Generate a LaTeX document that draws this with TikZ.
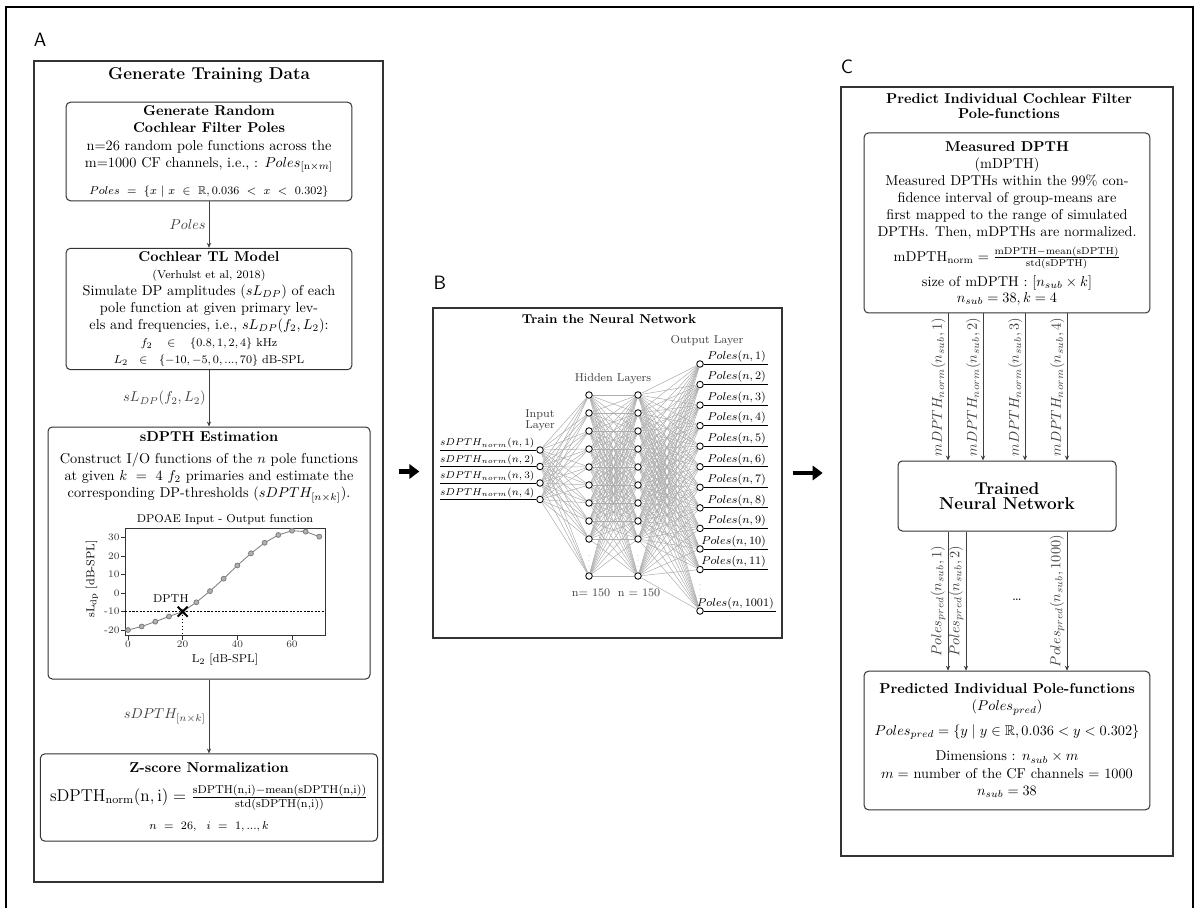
\documentclass[tikz,border=0pt]{standalone}
\usepackage{amsmath,amssymb}
\usetikzlibrary{arrows.meta, positioning, fit}

\begin{document}
\begin{tikzpicture}[
  x=0.7pt, y=-0.7pt,
  box/.style={draw=black!80, line width=0.7pt, rounded corners=3pt, align=flush center, inner sep=2pt},
  panel/.style={draw=black!80, line width=0.9pt, inner sep=0pt},
  paneltag/.style={font=\sffamily\fontsize{13.5}{16}\selectfont},
  lbl/.style={inner sep=2pt},
  rlbl/.style={rotate=90, anchor=south, inner sep=1.5pt},
  arr/.style={-{Stealth[length=3.5pt, width=3pt]}, black!75, line width=0.6pt},
  bigarr/.style={-{Triangle[length=7pt, width=10pt]}, line width=3pt},
  wire/.style={black!32, line width=0.35pt},
  neuron/.style={circle, draw, fill=white, line width=0.6pt, minimum size=4.6pt, inner sep=0pt},
  io/.style={line width=0.6pt},
  nnlbl/.style={font=\fontsize{7.8}{9}\selectfont, inner sep=1pt},
  inlbl/.style={font=\fontsize{7}{8}\selectfont, inner sep=1pt},
  layerlbl/.style={font=\fontsize{8}{8}\selectfont, text=black!75, align=center}
]
\useasboundingbox (0,0) rectangle (1196,908);
\draw[line width=1.8pt] (6,908) -- (6,7) -- (1193,7) -- (1193,908);

\node[paneltag] (tagA) at (40,40) {A};
\node[paneltag] (tagB) at (440,283) {B};
\node[paneltag] (tagC) at (847,67) {C};

% panel A: training data
\node[panel, fit={(34,61) (383,882)}] (panelA) {};
\node[font=\large\bfseries] (titleA) at (209,75) {Generate Training Data};

\node[box, text width=196pt, minimum height=69pt] (poles) at (209,151.5) {
  {\bfseries Generate Random\\ Cochlear Filter Poles}\\
  n=26 random pole functions across the\\
  m=1000 CF channels, i.e., : $Poles_{[\mathrm{n}\times m]}$\\[7pt]
  {\footnotesize $Poles\ =\ \{x\ |\ x\ \in\ \mathbb{R}, 0.036\ <\ x\ <\ 0.302\}$}};

\node[box, text width=196pt, minimum height=81pt] (tlmodel) at (209,309) {
  {\bfseries Cochlear TL Model}\\
  {\footnotesize (Verhulst et al, 2018)}\\
  Simulate DP amplitudes ($sL_{DP}$) of each\\
  pole function at given primary lev-\\
  els and frequencies, i.e., $sL_{DP}(f_2,L_2)$:\\
  {\footnotesize $f_2\quad\in\quad\{0.8,1,2,4\}$ kHz}\\
  {\footnotesize $L_2\ \ \in\ \ \{-10,-5,0,...,70\}$ dB-SPL}};

\node[font=\bfseries] (sdpthtitle) at (209,437) {sDPTH Estimation};
\node[align=center] (sdpthtxt) at (209,478) {
  Construct I/O functions of the $n$ pole functions\\
  at given $k\ =\ 4\ f_2$ primaries and estimate the\\
  corresponding DP-thresholds ($sDPTH_{[n\times k]}$).};

% DPOAE I/O plot
\begin{scope}[shift={(128,593)}, x=1.913pt, y=1.302pt]
  \node[font=\footnotesize] (plottitle) at (35.5,39.5) {DPOAE Input - Output function};
  \draw[black!80, line width=0.5pt] (-1,-23) rectangle (72.1,35);
  \foreach \v in {-20,-10,...,30}
    \draw[black!80, line width=0.4pt] (-1,\v) -- ++(-1.5,0) node[left, font=\scriptsize, inner sep=1pt] {\v};
  \foreach \L in {0,20,40,60}
    \draw[black!80, line width=0.4pt] (\L,-23) -- ++(0,-2) node[below, font=\scriptsize, inner sep=1pt] {\L};
  \draw[dash pattern=on 1.5pt off 1pt, line width=0.5pt] (-1,-10) -- (72.1,-10);
  \draw[dotted, line width=0.5pt] (20,-10) -- (20,-23);
  \draw[black!50, line width=0.6pt] plot[mark=*, mark size=1.7pt, mark options={fill=black!30, draw=black!50}]
    coordinates {(0,-19.9) (5,-18) (10,-15.4) (15,-12.6) (20,-10) (25,-5) (30,1) (35,7.7)
                 (40,14.8) (45,21.3) (50,27) (55,31.2) (60,33.5) (65,33) (70,30.3)};
  \draw[line width=1.4pt] (20,-10) ++(-3.5pt,-3.5pt) -- ++(7pt,7pt)
                          (20,-10) ++(-3.5pt,3.5pt) -- ++(7pt,-7pt);
  \node[font=\footnotesize] (dpthlbl) at (15.7,-3) {DPTH};
  \node[font=\footnotesize] (xlbl) at (35.5,-36) {L$_2$ [dB-SPL]};
  \node[font=\footnotesize, rotate=90] (ylbl) at (-13.2,7.5) {sL$_{\mathrm{dp}}$ [dB-SPL]};
\end{scope}
\node[box, fit={(48,427) (370,679)}, inner sep=0pt] (sdpth) {};

\node[box, text width=232pt, minimum height=61pt] (zscore) at (209,797.5) {
  {\bfseries Z-score Normalization}\\[8pt]
  {\large $\mathrm{sDPTH_{norm}(n,i)} = \frac{\mathrm{sDPTH(n,i)-mean(sDPTH(n,i))}}{\mathrm{std(sDPTH(n,i))}}$}\\[8pt]
  {\footnotesize $n\ =\ 26,\ \ i\ =\ 1,...,k$}};

\draw[arr] (poles) -- node[lbl, left]{$Poles$} (tlmodel);
\draw[arr] (tlmodel) -- node[lbl, left]{$sL_{DP}(f_2,L_2)$} (sdpth);
\draw[arr] (sdpth) -- node[lbl, left]{$sDPTH_{[n\times k]}$} (zscore);

% panel B: network
\node[panel, fit={(433,308) (782,638)}] (panelB) {};
\node[font=\fontsize{9}{11}\selectfont\bfseries] (titleB) at (609,319) {Train the Neural Network};

\foreach \i/\y in {1/450,2/466.5,3/483,4/499.5}
  \node[neuron] (in\i) at (540,\y) {};
\foreach \i in {1,...,9} {
  \node[neuron] (ha\i) at (589,{395+18*(\i-1)}) {};
  \node[neuron] (hb\i) at (638,{395+18*(\i-1)}) {};
}
\node[neuron] (ha10) at (589,576) {};
\node[neuron] (hb10) at (638,576) {};
\foreach \i in {1,...,11}
  \node[neuron] (out\i) at (700,{364+20.55*(\i-1)}) {};
\node[neuron] (out12) at (700,611) {};

\foreach \i in {1,...,4}
  \foreach \j in {1,...,10}
    \draw[wire] (in\i) -- (ha\j);
\foreach \i in {1,...,10}
  \foreach \j in {1,...,10}
    \draw[wire] (ha\i) -- (hb\j);
\foreach \i in {1,...,10}
  \foreach \j in {1,...,12}
    \draw[wire] (hb\i) -- (out\j);

\node[font=\tiny, text=black!45, inner sep=0pt] (dotsa) at (589,557) {$\vdots$};
\node[font=\tiny, text=black!45, inner sep=0pt] (dotsb) at (638,557) {$\vdots$};
\node[font=\tiny, text=black!45, inner sep=0pt] (dotsc) at (700,586) {$\vdots$};

\foreach \i in {1,...,4}
  \draw[io] (in\i.west) -- node[inlbl, pos=0, anchor=south east]{$sDPTH_{norm}(n,\i)$} ++(-96,0);
\foreach \i in {1,...,11}
  \draw[io] (out\i.east) -- ++(64,0) node[nnlbl, anchor=south east]{$Poles(n,\i)$};
\draw[io] (out12.east) -- ++(72,0) node[nnlbl, anchor=south east]{$Poles(n,1001)$};

\node[layerlbl] (inlayer) at (540,420) {Input\\ Layer};
\node[layerlbl] (hidlayer) at (613,379) {Hidden Layers};
\node[layerlbl] (outlayer) at (707,341) {Output Layer};
\node[layerlbl] (nha) at (591,593) {n= 150};
\node[layerlbl] (nhb) at (639,593) {n = 150};

% panel C: prediction
\node[panel, fit={(841,87) (1173,856)}] (panelC) {};
\node[font=\bfseries, align=center] (titleC) at (1009,106) {Predict Individual Cochlear Filter\\[-2pt] Pole-functions};

\node[box, text width=196pt, minimum height=126pt] (measured) at (1007,223) {
  {\bfseries Measured DPTH}\\
  (mDPTH)\\
  Measured DPTHs within the 99\% con-\\
  fidence interval of group-means are\\
  first mapped to the range of simulated\\
  DPTHs. Then, mDPTHs are normalized.\\[4pt]
  $\mathrm{mDPTH_{norm}} = \frac{\mathrm{mDPTH-mean(sDPTH)}}{\mathrm{std(sDPTH)}}$\\[4pt]
  size of mDPTH : $[n_{sub}\times k]$\\[-1pt]
  $n_{sub} = 38, k = 4$};

\node[box, minimum width=152.6pt, minimum height=49pt, font=\fontsize{12}{11}\selectfont\bfseries] (trained) at (1007,496) {Trained\\ Neural Network};

\node[box, text width=196pt, minimum height=97pt] (predicted) at (1007,740.5) {
  {\bfseries Predicted Individual Pole-functions}\\
  ($Poles_{pred}$)\\[5pt]
  $Poles_{pred} = \{y \mid y\in\mathbb{R}, 0.036 < y < 0.302\}$\\[6pt]
  Dimensions : $n_{sub}\times m$\\
  $m =$ number of the CF channels $=$ 1000\\
  $n_{sub} = 38$};

\foreach \x/\k in {948/1,983/2,1025/3,1067/4}
  \draw[arr] (measured.south -| \x,0) -- node[rlbl]{$mDPTH_{norm}(n_{sub},\k)$} (trained.north -| \x,0);
\foreach \x/\k in {948/1,966/2,1067/1000}
  \draw[arr] (trained.south -| \x,0) -- node[rlbl]{$Poles_{pred}(n_{sub},\k)$} (predicted.north -| \x,0);
\node (outdots) at (1017,600) {\dots};

\draw[bigarr] ([xshift=11pt]panelA.east) -- +(14pt,0);
\draw[bigarr] ([xshift=7pt]panelB.east) -- +(21pt,0);
\end{tikzpicture}
\end{document}
